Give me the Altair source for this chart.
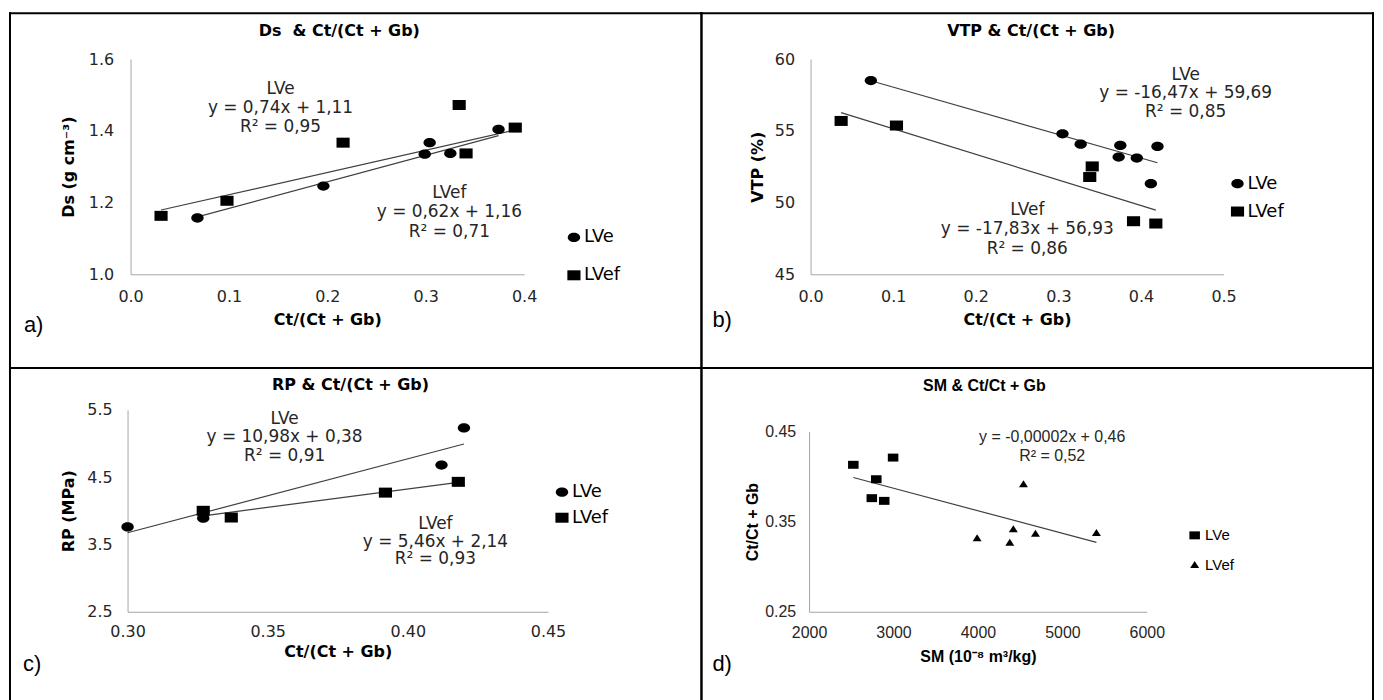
import altair as alt
import pandas as pd

# ---------------- data ----------------
SERIES = ["LVe", "LVef"]

# a) Ds vs Ct/(Ct + Gb)
a_lve_x = [0.068, 0.196, 0.299, 0.304, 0.325, 0.374]
a_lve_y = [1.157, 1.246, 1.335, 1.367, 1.337, 1.404]
a_lvef_x = [0.031, 0.098, 0.216, 0.334, 0.341, 0.391]
a_lvef_y = [1.163, 1.205, 1.367, 1.472, 1.337, 1.409]
a_trend = [(0.74, 1.11), (0.62, 1.16)]
a_eq = [["LVe", "y = 0,74x + 1,11", "R² = 0,95"], ["LVef", "y = 0,62x + 1,16", "R² = 0,71"]]

# b) VTP vs Ct/(Ct + Gb)
b_lve_x = [0.073, 0.305, 0.327, 0.375, 0.373, 0.395, 0.420, 0.412]
b_lve_y = [58.50, 54.79, 54.07, 53.98, 53.17, 53.10, 53.91, 51.32]
b_lvef_x = [0.037, 0.104, 0.341, 0.338, 0.391, 0.418]
b_lvef_y = [55.69, 55.37, 52.52, 51.78, 48.70, 48.54]
b_trend = [(-16.47, 59.69), (-17.83, 56.93)]
b_eq = [["LVe", "y = -16,47x + 59,69", "R² = 0,85"], ["LVef", "y = -17,83x + 56,93", "R² = 0,86"]]

# c) RP vs Ct/(Ct + Gb)
c_lve_x = [0.300, 0.327, 0.412, 0.420]
c_lve_y = [3.76, 3.89, 4.68, 5.23]
c_lvef_x = [0.327, 0.337, 0.392, 0.418]
c_lvef_y = [4.00, 3.90, 4.27, 4.43]
c_trend = [(10.98, 0.38), (5.46, 2.14)]
c_eq = [["LVe", "y = 10,98x + 0,38", "R² = 0,91"], ["LVef", "y = 5,46x + 2,14", "R² = 0,93"]]

# d) Ct/Ct + Gb vs SM
d_lve_x = [2524, 2995, 2796, 2743, 2890]
d_lve_y = [0.413, 0.421, 0.397, 0.376, 0.373]
d_lvef_x = [4539, 3990, 4419, 4377, 4681, 5403]
d_lvef_y = [0.392, 0.332, 0.342, 0.327, 0.337, 0.338]
d_trend = (-0.000025, 0.462)
d_eq = ["y = -0,00002x + 0,46", "R² = 0,52"]

titles = ["Ds \u00a0& Ct/(Ct + Gb)", "VTP & Ct/(Ct + Gb)", "RP & Ct/(Ct + Gb)", "SM & Ct/Ct + Gb"]
xtitles = ["Ct/(Ct + Gb)", "Ct/(Ct + Gb)", "Ct/(Ct + Gb)", "SM (10⁻⁸ m³/kg)"]
ytitles = ["Ds (g cm⁻³)", "VTP (%)", "RP (MPa)", "Ct/Ct + Gb"]
letters = ["a)", "b)", "c)", "d)"]

# ---------------- helpers ----------------
ONE = pd.DataFrame({"k": [0]})
ELLIPSE = "M -0.94 0 A 0.94 0.705 0 1 1 0.94 0 A 0.94 0.705 0 1 1 -0.94 0 Z"
RECT = "M -1 -0.76 L 1 -0.76 L 1 0.76 L -1 0.76 Z"
RECT_D = "M -1 -0.755 L 1 -0.755 L 1 0.755 L -1 0.755 Z"
TRI_D = "M 0 -0.66 L 0.85 0.66 L -0.85 0.66 Z"
WIDE = "DejaVu Sans"
ARIAL = "Liberation Sans"
AXIS_GREY = "#a6a6a6"
LABEL_COL = "#262626"
TREND_COL = "#404040"


def points_df(groups):
    rows = []
    for name, xs, ys in groups:
        for x, y in zip(xs, ys):
            rows.append({"series": name, "x": x, "y": y})
    return pd.DataFrame(rows)


def trend_df(groups):
    rows = []
    for name, xs, (a, b) in groups:
        for x in (min(xs), max(xs)):
            rows.append({"series": name, "x": x, "y": a * x + b})
    return pd.DataFrame(rows)


def hrule(y, x0, x1):
    return alt.Chart(ONE).mark_rule(color="black", strokeWidth=2, strokeCap="square").encode(
        x=alt.value(x0), x2=alt.value(x1), y=alt.value(y))


def vrule(x, y0, y1):
    return alt.Chart(ONE).mark_rule(color="black", strokeWidth=2, strokeCap="square").encode(
        x=alt.value(x), y=alt.value(y0), y2=alt.value(y1))


def text(s, x, y, font, size, weight="normal", align="center", lh=19, color="black"):
    return alt.Chart(ONE).mark_text(
        text=s, font=font, fontSize=size, fontWeight=weight, align=align,
        baseline="alphabetic", color=color, lineHeight=lh,
    ).encode(x=alt.value(x), y=alt.value(y))


def panel(P):
    font = P["font"]
    W, H = P["W"], P["H"]
    xenc = alt.X(
        "x:Q",
        scale=alt.Scale(domain=P["xdom"], range=P["xrange"], nice=False, zero=False),
        axis=alt.Axis(
            values=P["xticks"], format=P["xfmt"], offset=P["xoff"], title=P["xtitle"],
            titleY=P["xtitleY"], titleBaseline="middle", titleFont=font, titleFontSize=16,
            titleFontWeight="bold", titleColor="black", labelFont=font, labelFontSize=16,
            labelColor=LABEL_COL, labelPadding=P["xlabpad"], labelFlush=False,
            labelOverlap=False, ticks=False, grid=False, domainColor=AXIS_GREY, domainWidth=1,
        ),
    )
    yenc = alt.Y(
        "y:Q",
        scale=alt.Scale(domain=P["ydom"], range=P["yrange"], nice=False, zero=False),
        axis=alt.Axis(
            values=P["yticks"], format=P["yfmt"], offset=P["yoff"], title=P["ytitle"],
            titleX=P["ytitleX"], titleAngle=270, titleBaseline="middle", titleFont=font,
            titleFontSize=16, titleFontWeight="bold", titleColor="black", labelFont=font,
            labelFontSize=16, labelColor=LABEL_COL, labelPadding=P["ylabpad"],
            labelFlush=False, labelOverlap=False, ticks=False, grid=False,
            domainColor=AXIS_GREY, domainWidth=1,
        ),
    )
    lines = alt.Chart(P["trend"]).mark_line(color=TREND_COL, strokeWidth=1.2).encode(
        x=xenc, y=yenc, detail="series:N")
    pts = alt.Chart(P["points"]).mark_point(
        filled=True, color="black", opacity=1, size=P["size"], strokeWidth=0
    ).encode(
        x=xenc, y=yenc,
        shape=alt.Shape(
            "series:N",
            scale=alt.Scale(domain=P["legdomain"], range=P["shapes"]),
            legend=alt.Legend(
                orient="none", legendX=P["legX"], legendY=P["legY"], title=None,
                labelFont=font, labelFontSize=P["legfs"], labelColor="black",
                symbolSize=P["size"], symbolFillColor="black", symbolStrokeWidth=0,
                symbolOpacity=1, rowPadding=P["rowpad"], labelOffset=P["laboff"], padding=0,
            ),
        ),
    )
    layers = [hrule(0, 0, W), vrule(0, 0, H), vrule(W, 0, H)]
    if P["bottom"]:
        layers.append(hrule(H, 0, W))
    layers += [lines, pts]
    layers.append(text(P["title"], P["titlepos"][0], P["titlepos"][1], font, 16, "bold"))
    layers.append(text(P["letter"], P["letterpos"][0], P["letterpos"][1], ARIAL, 22, align="left"))
    for lines_txt, (ex, ey, lh) in zip(P["eqs"], P["eqpos"]):
        layers.append(text(lines_txt, ex, ey, font, P["eqfs"], lh=lh, color="#262626"))
    return alt.layer(*layers).properties(width=W, height=H)


LW, RW, TH, BH = 694, 674, 356, 340

pa = dict(
    W=LW, H=TH, bottom=True, font=WIDE,
    points=points_df([("LVe", a_lve_x, a_lve_y), ("LVef", a_lvef_x, a_lvef_y)]),
    trend=trend_df([("LVe", a_lve_x, a_trend[0]), ("LVef", a_lvef_x, a_trend[1])]),
    xdom=[0.0, 0.4], xrange=[121, 516], xticks=[0.0, 0.1, 0.2, 0.3, 0.4], xfmt=".1f",
    ydom=[1.0, 1.6], yrange=[262, 46], yticks=[1.0, 1.2, 1.4, 1.6], yfmt=".1f",
    xoff=262 - TH, yoff=-121, xtitle=xtitles[0], ytitle=ytitles[0], xtitleY=45, ytitleX=-62,
    xlabpad=14, ylabpad=17,
    legdomain=SERIES, shapes=[ELLIPSE, RECT], size=174, legX=557, legY=216, rowpad=20,
    legfs=18, laboff=1, title=titles[0], titlepos=(330.5, 23.3), letter=letters[0],
    letterpos=(14, 320), eqfs=17,
    eqs=a_eq, eqpos=[(271.5, 81.3, 19), (441, 185.5, 19.3)],
)

pb = dict(
    W=RW, H=TH, bottom=True, font=WIDE,
    points=points_df([("LVe", b_lve_x, b_lve_y), ("LVef", b_lvef_x, b_lvef_y)]),
    trend=trend_df([("LVe", b_lve_x, b_trend[0]), ("LVef", b_lvef_x, b_trend[1])]),
    xdom=[0.0, 0.5], xrange=[109.5, 524], xticks=[0.0, 0.1, 0.2, 0.3, 0.4, 0.5], xfmt=".1f",
    ydom=[45, 60], yrange=[262, 46], yticks=[45, 50, 55, 60], yfmt="d",
    xoff=262 - TH, yoff=-109.5, xtitle=xtitles[1], ytitle=ytitles[1], xtitleY=45, ytitleX=-53,
    xlabpad=14, ylabpad=16,
    legdomain=SERIES, shapes=[ELLIPSE, RECT], size=174, legX=529, legY=162, rowpad=10,
    legfs=18, laboff=1, title=titles[1], titlepos=(330.8, 23), letter=letters[1],
    letterpos=(11, 315), eqfs=17,
    eqs=b_eq, eqpos=[(486, 66.5, 18.8), (327, 202, 19.7)],
)

pc = dict(
    W=LW, H=BH, bottom=False, font=WIDE,
    points=points_df([("LVe", c_lve_x, c_lve_y), ("LVef", c_lvef_x, c_lvef_y)]),
    trend=trend_df([("LVe", c_lve_x, c_trend[0]), ("LVef", c_lvef_x, c_trend[1])]),
    xdom=[0.30, 0.45], xrange=[118, 540], xticks=[0.30, 0.35, 0.40, 0.45], xfmt=".2f",
    ydom=[2.5, 5.5], yrange=[244.7, 42], yticks=[2.5, 3.5, 4.5, 5.5], yfmt=".1f",
    xoff=244.7 - BH, yoff=-118, xtitle=xtitles[2], ytitle=ytitles[2], xtitleY=40.3, ytitleX=-59.4,
    xlabpad=12, ylabpad=15.5,
    legdomain=SERIES, shapes=[ELLIPSE, RECT], size=174, legX=545, legY=115.7, rowpad=7.6,
    legfs=18, laboff=1, title=titles[2], titlepos=(341.8, 22), letter=letters[2],
    letterpos=(13, 304), eqfs=17,
    eqs=c_eq, eqpos=[(275.6, 56.5, 18.3), (427, 162, 17.5)],
)

pd_ = dict(
    W=RW, H=BH, bottom=False, font=ARIAL,
    points=points_df([("LVe", d_lve_x, d_lve_y), ("LVef", d_lvef_x, d_lvef_y)]),
    trend=trend_df([("all", d_lve_x + d_lvef_x, d_trend)]),
    xdom=[2000, 6000], xrange=[108, 447], xticks=[2000, 3000, 4000, 5000, 6000], xfmt="d",
    ydom=[0.25, 0.45], yrange=[244.7, 63.7], yticks=[0.25, 0.35, 0.45], yfmt=".2f",
    xoff=244.7 - BH, yoff=-108, xtitle=xtitles[3], ytitle=ytitles[3], xtitleY=44.8, ytitleX=-57,
    xlabpad=13, ylabpad=13.4,
    legdomain=SERIES, shapes=[RECT_D, TRI_D], size=112, legX=487.5, legY=160.5, rowpad=13.3,
    legfs=15, laboff=3, title=titles[3], titlepos=(284, 23), letter=letters[3],
    letterpos=(11, 304), eqfs=16,
    eqs=[d_eq], eqpos=[(352, 74, 19)],
)

chart = alt.concat(
    panel(pa), panel(pb), panel(pc), panel(pd_),
    columns=2, spacing=0, bounds="flush", align="each",
).resolve_scale(
    x="independent", y="independent", shape="independent"
).resolve_legend(shape="independent").configure_view(stroke=None).properties(
    padding={"left": 0, "top": 2, "right": 0, "bottom": 0}
)

chart.save("out.html", embed_options={"renderer": "svg", "actions": False})
